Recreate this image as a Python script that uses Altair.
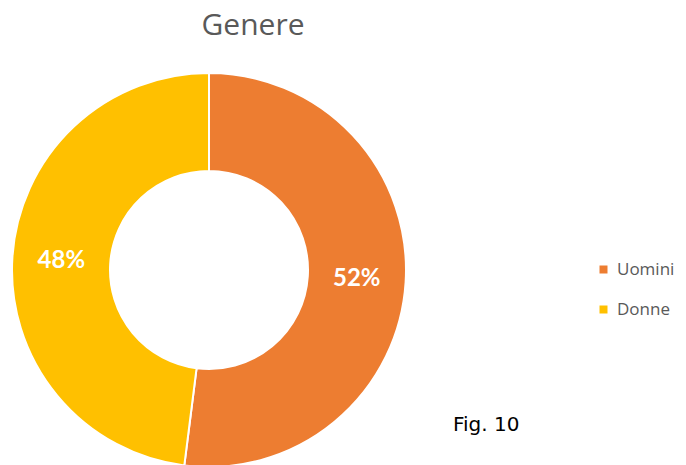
import altair as alt
import pandas as pd

categories = ["Uomini", "Donne"]
values = [52, 48]
colors = ["#ED7D31", "#FFC000"]
order = [0, 1]
title_text = ["Genere"]
note_text = ["Fig. 10"]

df = pd.DataFrame({"genere": categories, "valore": values, "ordine": order})

CX, CY = 201, 212

base = alt.Chart(df).transform_calculate(
    label="datum.valore + '%'"
).encode(
    theta=alt.Theta("valore:Q", stack=True),
    order=alt.Order("ordine:Q"),
)

arc = base.mark_arc(innerRadius=99, outerRadius=197, stroke="white", strokeWidth=2).encode(
    x=alt.value(CX),
    y=alt.value(CY),
    color=alt.Color(
        "genere:N",
        scale=alt.Scale(domain=categories, range=colors),
        legend=alt.Legend(
            title=None, orient="none", legendX=587, legendY=203,
            symbolType="square", symbolSize=64, symbolStrokeWidth=0, symbolOpacity=1,
            labelFont="Open Sans", labelFontSize=17, labelColor="#595959",
            rowPadding=22, labelOffset=5, padding=0, labelLimit=200,
        ),
    ),
)

text = base.mark_text(radius=148, font="Lato", fontSize=24, fontWeight="bold", color="white",
                      baseline="middle", align="center").encode(
    x=alt.value(CX),
    y=alt.value(CY),
    text="label:N",
)

title = alt.Chart(pd.DataFrame({"t": title_text})).mark_text(
    font="Open Sans", fontSize=30, color="#595959", align="center", baseline="alphabetic"
).encode(x=alt.value(245), y=alt.value(-23), text="t:N")

fig = alt.Chart(pd.DataFrame({"t": note_text})).mark_text(
    font="DejaVu Sans", fontSize=20, color="black", align="left", baseline="middle"
).encode(x=alt.value(445), y=alt.value(367), text="t:N")

chart = alt.layer(arc, text, title, fig).properties(
    width=490, height=407,
    padding={"top": 50, "left": 0, "right": 180, "bottom": 0},
    autosize=alt.AutoSizeParams(type="none"),
).configure_view(stroke=None)

chart.save("out.html", embed_options={"renderer": "svg", "actions": False})
